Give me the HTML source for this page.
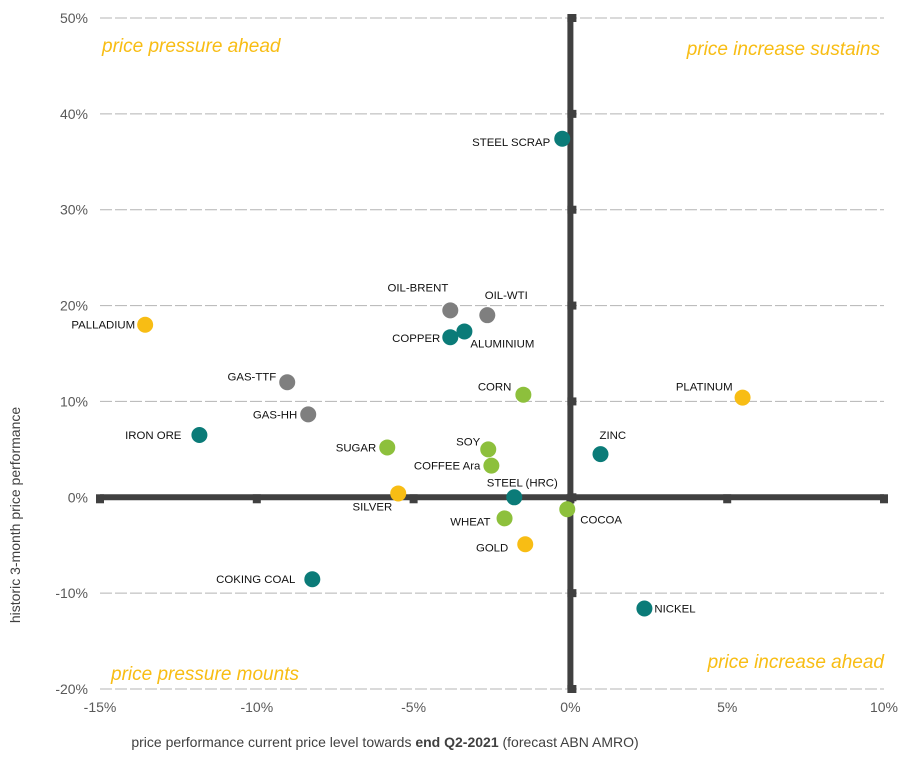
<!DOCTYPE html>
<html><head><meta charset="utf-8"><style>
html,body{margin:0;padding:0;background:#fff;}
svg{display:block;font-family:"Liberation Sans",Arial,sans-serif;}
</style></head><body>
<svg id="chart" width="907" height="768" viewBox="0 0 907 768"></svg>
<script>
const names=["STEEL SCRAP","OIL-BRENT","OIL-WTI","COPPER","ALUMINIUM","PALLADIUM","GAS-TTF","GAS-HH","CORN","PLATINUM","IRON ORE","SUGAR","SOY","COFFEE Ara","ZINC","STEEL (HRC)","SILVER","COCOA","WHEAT","GOLD","COKING COAL","NICKEL"];
const xValues=[-0.26,-3.83,-2.65,-3.83,-3.38,-13.56,-9.03,-8.36,-1.5,5.49,-11.83,-5.84,-2.62,-2.52,0.96,-1.79,-5.49,-0.1,-2.1,-1.44,-8.23,2.36];
const yValues=[37.4,19.5,19.0,16.7,17.3,18.0,12.0,8.65,10.7,10.4,6.5,5.2,5.0,3.3,4.5,0.0,0.4,-1.25,-2.2,-4.9,-8.55,-11.6];
const groups=["metal","energy","energy","metal","metal","precious","energy","energy","agri","precious","metal","agri","agri","agri","metal","metal","precious","agri","agri","precious","metal","metal"];
const xTicks=[-15,-10,-5,0,5,10];
const yTicks=[-20,-10,0,10,20,30,40,50];
// label layout (not data)
const lblDx=[-12,-2,19,-10,6,-10,-11,-11,-12,-10,-18,-11,-8,-11,-1,8,-6,13,-14,-17,-17,10];
const lblDy=[7,-19,-16,5,16,4,-2,4,-4,-7,4,4,-4,4,-15,-11,17,14,7,7,4,4];
const lblAnchor=["end","end","middle","end","start","end","end","end","end","end","end","end","end","end","start","middle","end","start","end","end","end","start"];
const colors={metal:"#0b7b78",energy:"#7f7f7f",agri:"#8dc03c",precious:"#f8bd14"};
const X0=100,X1=884,Y0=689,Y1=18;
const xs=v=>X0+(v+15)/25*(X1-X0);
const ys=v=>Y0-(v+20)/70*(Y0-Y1);
const svg=document.getElementById('chart');
const NS="http://www.w3.org/2000/svg";
function mk(t,a,txt){const e=document.createElementNS(NS,t);for(const k in a)e.setAttribute(k,a[k]);if(txt!==undefined)e.textContent=txt;svg.appendChild(e);return e;}
yTicks.forEach(v=>{
  if(v!==0){const g=mk('line',{x1:X0,x2:X1,y1:ys(v),y2:ys(v),stroke:"#b4b4b4","stroke-width":1,"stroke-dasharray":"12 3"});
  
  }
  const t=mk('text',{x:88,y:ys(v)+5,"text-anchor":"end","font-size":14,fill:"#595959"},v+"%");
  
  
});
xTicks.forEach(v=>{
  const t=mk('text',{x:xs(v),y:712,"text-anchor":"middle","font-size":14,fill:"#595959"},v+"%");
  
  
  const m=mk('rect',{x:xs(v)-4,y:ys(0)-3,width:8,height:9,fill:"#404040"});
  
  
});
yTicks.forEach(v=>{const m=mk('rect',{x:xs(0)-3,y:ys(v)-4,width:9,height:8,fill:"#404040"});
  
  });
const ha=mk('line',{x1:X0,x2:X1,y1:ys(0),y2:ys(0),stroke:"#404040","stroke-width":6});


const va=mk('line',{x1:xs(0),x2:xs(0),y1:Y1,y2:Y0,stroke:"#404040","stroke-width":6});


const quads=[["price pressure ahead",102,52,"start"],["price increase sustains",880,55,"end"],["price pressure mounts",111,680,"start"],["price increase ahead",884,668,"end"]];
quads.forEach(q=>{const t=mk('text',{x:q[1],y:q[2],"text-anchor":q[3],"font-size":19,"font-style":"italic",fill:"#f8bd14"},q[0]);
  
  });
names.forEach((n,i)=>{
  const cx=xs(xValues[i]),cy=ys(yValues[i]);
  const c=mk('circle',{cx:cx,cy:cy,r:8,fill:colors[groups[i]]});
  
  
  const t=mk('text',{x:cx+lblDx[i],y:cy+lblDy[i],"text-anchor":lblAnchor[i],"font-size":11.4,fill:"#111"},n);
  
  
});
const yt=mk('text',{x:0,y:0,transform:"translate(20,515) rotate(-90)","text-anchor":"middle","font-size":14,fill:"#404040"},"historic 3-month price performance");


const xt=mk('text',{x:385,y:747,"text-anchor":"middle","font-size":14,fill:"#404040"});


xt.innerHTML='price performance current price level towards <tspan font-weight="bold">end Q2-2021</tspan> (forecast ABN AMRO)';
</script>
</body></html>
